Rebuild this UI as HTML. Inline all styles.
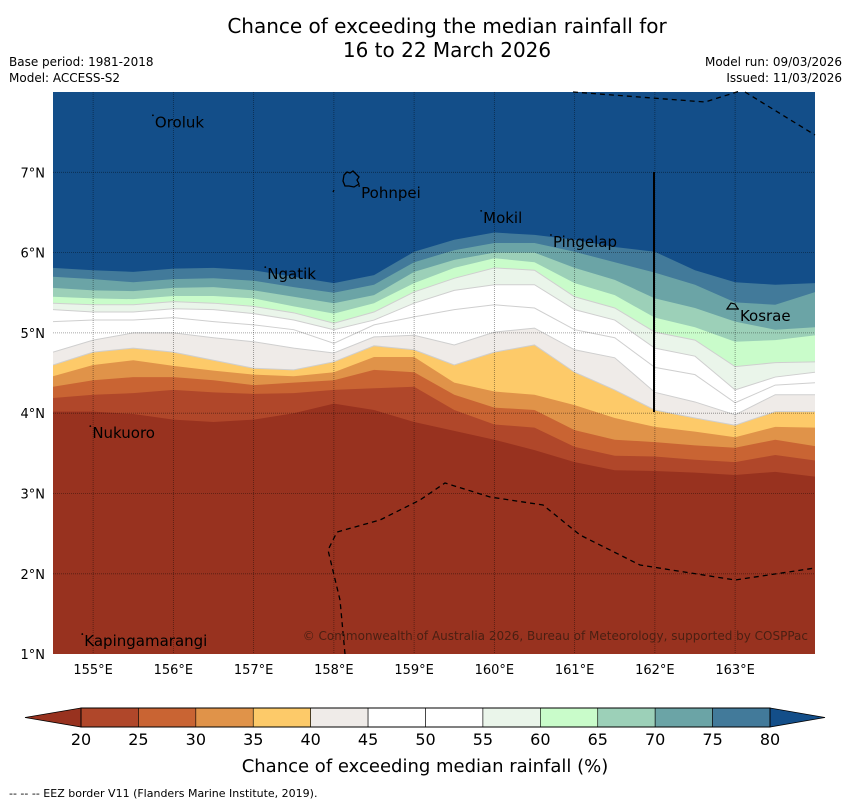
<!DOCTYPE html>
<html><head><meta charset="utf-8">
<style>
body{margin:0;background:#fff;}
svg{display:block;font-family:"DejaVu Sans","Liberation Sans",sans-serif;}
</style></head>
<body>
<svg id="chart" width="850" height="804" viewBox="0 0 850 804" xmlns="http://www.w3.org/2000/svg">
<text x="447" y="33" text-anchor="middle" font-size="20">Chance of exceeding the median rainfall for</text>
<text x="447" y="57" text-anchor="middle" font-size="20">16 to 22 March 2026</text>
<text x="9" y="66" font-size="12">Base period: 1981-2018</text>
<text x="9" y="82" font-size="12">Model: ACCESS-S2</text>
<text x="842" y="66" font-size="12" text-anchor="end">Model run: 09/03/2026</text>
<text x="842" y="82" font-size="12" text-anchor="end">Issued: 11/03/2026</text>
<defs><clipPath id="mapclip"><rect x="53" y="92" width="762" height="562"/></clipPath></defs>
<g id="map" clip-path="url(#mapclip)"></g>
<g id="overlay"></g>
<g id="axes"></g>
<g id="cbar"></g>
<text x="425" y="772" text-anchor="middle" font-size="18">Chance of exceeding median rainfall (%)</text>
<text x="9" y="797" font-size="11">--  --  -- EEZ border V11 (Flanders Marine Institute, 2019).</text>
</svg>
<script>
const lons=[154.5,155,155.5,156,156.5,157,157.5,158,158.5,159,159.5,160,160.5,161,161.5,162,162.5,163,163.5,164];
const levels=[80,75,70,65,60,55,50,45,40,35,30,25,20];
const b80=[5.81,5.78,5.76,5.80,5.81,5.78,5.70,5.62,5.72,6.01,6.16,6.25,6.22,6.16,6.07,6.01,5.78,5.63,5.60,5.62];
const b75=[5.70,5.67,5.63,5.67,5.68,5.65,5.57,5.50,5.60,5.88,6.03,6.12,6.12,6.01,5.88,5.75,5.60,5.38,5.35,5.51];
const b70=[5.56,5.53,5.52,5.56,5.57,5.53,5.45,5.37,5.47,5.76,5.91,6.00,6.00,5.81,5.66,5.43,5.31,5.14,5.04,5.07];
const b65=[5.45,5.43,5.42,5.46,5.46,5.43,5.33,5.24,5.37,5.62,5.81,5.93,5.88,5.62,5.47,5.19,5.07,4.89,4.91,4.97];
const b60=[5.37,5.35,5.35,5.39,5.37,5.33,5.25,5.12,5.26,5.51,5.68,5.81,5.78,5.45,5.31,5.01,4.91,4.58,4.63,4.64];
const b55=[5.29,5.26,5.26,5.30,5.29,5.24,5.16,5.04,5.16,5.37,5.53,5.60,5.60,5.29,5.16,4.81,4.71,4.29,4.45,4.51];
const b50=[5.14,5.16,5.16,5.19,5.14,5.10,5.04,4.87,5.10,5.20,5.29,5.35,5.31,5.04,4.94,4.57,4.48,4.13,4.35,4.38];
const b45=[4.76,4.91,5.00,5.00,4.94,4.89,4.81,4.75,4.95,4.97,4.85,5.01,5.06,4.79,4.69,4.26,4.14,3.98,4.23,4.23];
const b40=[4.60,4.76,4.81,4.76,4.66,4.56,4.54,4.64,4.84,4.79,4.60,4.76,4.85,4.51,4.29,4.04,3.94,3.85,4.02,4.02];
const b35=[4.46,4.60,4.66,4.59,4.53,4.48,4.46,4.51,4.70,4.70,4.38,4.27,4.23,4.10,3.94,3.83,3.77,3.70,3.83,3.82];
const b30=[4.33,4.41,4.45,4.45,4.41,4.35,4.38,4.41,4.54,4.51,4.23,4.07,4.04,3.79,3.67,3.64,3.60,3.57,3.67,3.59];
const b25=[4.19,4.23,4.25,4.29,4.26,4.24,4.25,4.29,4.31,4.33,4.04,3.86,3.82,3.58,3.47,3.46,3.42,3.39,3.48,3.41];
const b20=[4.02,4.02,3.99,3.92,3.89,3.92,4.00,4.12,4.04,3.89,3.78,3.67,3.54,3.39,3.29,3.28,3.26,3.23,3.27,3.21];
const boundaries=[b80,b75,b70,b65,b60,b55,b50,b45,b40,b35,b30,b25,b20];
const topColor="#134e89";
const bandColors=["#427a9a","#6ba4a6","#9cd0b8","#c9fcca","#eaf5ea","#ffffff","#ffffff","#efebe8","#fdca69","#e09349","#c96433","#b0472a","#98321f"];
const cbColors=["#b0472a","#c96433","#e09349","#fdca69","#efebe8","#ffffff","#ffffff","#eaf5ea","#c9fcca","#9cd0b8","#6ba4a6","#427a9a"];
const cbTicks=[20,25,30,35,40,45,50,55,60,65,70,75,80];
const lonTicks=[155,156,157,158,159,160,161,162,163];
const latTicks=[1,2,3,4,5,6,7];
const places=["Oroluk","Pohnpei","Mokil","Pingelap","Ngatik","Kosrae","Nukuoro","Kapingamarangi"];
const placeLon=[155.77,158.34,159.86,160.73,157.17,163.06,154.99,154.89];
const placeLat=[7.56,6.68,6.37,6.07,5.67,5.15,3.69,1.10];

const NS="http://www.w3.org/2000/svg";
const X=lon=>53+(lon-154.5)*80.25;
const Y=lat=>92+(8-lat)*80.3;
function mk(tag,attrs,parent){const e=document.createElementNS(NS,tag);for(const k in attrs)e.setAttribute(k,attrs[k]);parent.appendChild(e);return e;}
const map=document.getElementById('map');
let r=mk('rect',{x:53,y:92,width:762,height:562,fill:topColor},map);


boundaries.forEach((b,i)=>{
  let d='M'+X(lons[0])+','+Y(b[0]);
  for(let j=1;j<lons.length;j++)d+=' L'+X(lons[j])+','+Y(b[j]);
  const dFill=d+' L'+X(lons[lons.length-1])+',700 L'+X(lons[0])+',700 Z';
  const p=mk('path',{d:dFill,fill:bandColors[i],stroke:'none'},map);
  
  
  if(levels[i]<=60&&levels[i]>=40){
    const l=mk('path',{d:d,fill:'none',stroke:'#cfcfcf','stroke-width':1},map);
    
    
  }
});
const ov=document.getElementById('overlay');
lonTicks.forEach(lo=>{
  const g=mk('line',{x1:X(lo),x2:X(lo),y1:92,y2:654,stroke:'#000','stroke-opacity':0.45,'stroke-width':0.8,'stroke-dasharray':'1,1'},ov);
  
  
});
latTicks.forEach(la=>{
  if(la<=1)return;
  const g=mk('line',{x1:53,x2:815,y1:Y(la),y2:Y(la),stroke:'#000','stroke-opacity':0.45,'stroke-width':0.8,'stroke-dasharray':'1,1'},ov);
  
  
});
let e;
e=mk('path',{d:'M573,92 L705,102 L740,91 M745,92 L815,135',fill:'none',stroke:'#000','stroke-width':1.3,'stroke-dasharray':'5,4'},ov);


e=mk('path',{d:'M345,654 L340,600 L328,550 L337,532 L380,520 L420,500 L445,483 L490,497 L543,505 L580,535 L640,565 L735,580 L815,568',fill:'none',stroke:'#000','stroke-width':1.3,'stroke-dasharray':'5,4'},ov);


e=mk('line',{x1:654,x2:654,y1:172,y2:412,stroke:'#000','stroke-width':2},ov);


e=mk('path',{d:'M344,175 L347,172 L350,173 L353,171 L356,174 L359,177 L357,180 L359,184 L354,187 L349,186 L345,186 L343,181 Z M334,190 L333,192',fill:'none',stroke:'#000','stroke-width':1.3},ov);


e=mk('path',{d:'M727,309 L731,303 L735,304 L738,309 Z',fill:'none',stroke:'#000','stroke-width':1.2},ov);


places.forEach((nm,i)=>{
  const x=X(placeLon[i]),y=Y(placeLat[i]);
  const dot=mk('circle',{cx:x-2,cy:y-12,r:0.9,fill:'#000'},ov);
  
  
  const t=mk('text',{x:x,y:y,'font-size':15,fill:'#000'},ov);
  t.textContent=nm;
  
  
});
e=mk('text',{x:808,y:640,'font-size':12,fill:'#4a1f12','text-anchor':'end'},ov);
e.textContent='© Commonwealth of Australia 2026, Bureau of Meteorology, supported by COSPPac';



const ax=document.getElementById('axes');
lonTicks.forEach(lo=>{
  const t=mk('text',{x:X(lo),y:674,'font-size':13,'text-anchor':'middle'},ax);
  t.textContent=lo+'°E';
  
  
});
latTicks.forEach(la=>{
  const t=mk('text',{x:45,y:Y(la)+5,'font-size':13,'text-anchor':'end'},ax);
  t.textContent=la+'°N';
  
  
});

const cb=document.getElementById('cbar');
const cx0=81,cx1=770,cy=708,ch=19,cw=(cx1-cx0)/cbColors.length;
e=mk('path',{d:`M${cx0},${cy} L25,${cy+ch/2} L${cx0},${cy+ch} Z`,fill:'#98321f',stroke:'#000','stroke-width':0.8},cb);


e=mk('path',{d:`M${cx1},${cy} L825,${cy+ch/2} L${cx1},${cy+ch} Z`,fill:topColor,stroke:'#000','stroke-width':0.8},cb);


cbColors.forEach((c,i)=>{
  const s=mk('rect',{x:cx0+i*cw,y:cy,width:cw,height:ch,fill:c,stroke:'#000','stroke-width':0.6},cb);
  
  
});
e=mk('rect',{x:cx0,y:cy,width:cx1-cx0,height:ch,fill:'none',stroke:'#000','stroke-width':1},cb);


cbTicks.forEach((v,i)=>{
  const t=mk('text',{x:cx0+i*cw,y:745,'font-size':16,'text-anchor':'middle'},cb);
  t.textContent=v;
  
  
});
</script>
</body></html>
